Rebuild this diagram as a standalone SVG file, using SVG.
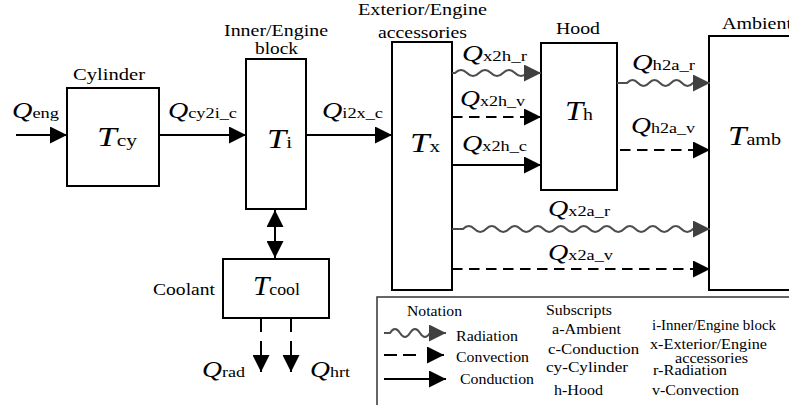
<svg xmlns="http://www.w3.org/2000/svg" width="789" height="405" viewBox="0 0 789 405">
<defs>
<style>
.box{fill:#fff;stroke:#000;stroke-width:2}
.ln{fill:none;stroke:#000;stroke-width:2}
.dash{stroke-dasharray:10.5 6.5}
.wave{fill:none;stroke:#4d4d4d;stroke-width:2}
.lbl{font-family:"Liberation Serif","Times New Roman",serif;font-size:17px;fill:#000}
.sm{font-family:"Liberation Serif","Times New Roman",serif;font-size:14px;fill:#000}
.q{font-family:"Liberation Serif","Times New Roman",serif;font-size:23px;font-style:italic;fill:#000}
.t{font-family:"Liberation Serif","Times New Roman",serif;font-size:28px;font-style:italic;fill:#000}
.s{font-style:normal;font-size:15px}
.st{font-style:normal;font-size:17px}
</style>
<marker id="ah" markerUnits="userSpaceOnUse" markerWidth="17" markerHeight="17" refX="17" refY="8.5" orient="auto"><path d="M0,0 L17,8.5 L0,17 z" fill="#000"/></marker>
<marker id="ahs" markerUnits="userSpaceOnUse" markerWidth="17" markerHeight="17" refX="17" refY="8.5" orient="auto-start-reverse"><path d="M0,0 L17,8.5 L0,17 z" fill="#000"/></marker>
<marker id="ahg" markerUnits="userSpaceOnUse" markerWidth="17" markerHeight="17" refX="17" refY="8.5" orient="auto"><path d="M0,0 L17,8.5 L0,17 z" fill="#404040"/></marker>
</defs>
<rect width="789" height="405" fill="#fff"/>

<g id="cylinder">
<rect class="box" x="67" y="88" width="92" height="98"/>
<text class="lbl" x="73" y="80" textLength="72" lengthAdjust="spacingAndGlyphs">Cylinder</text>
<text class="t" x="97" y="146" textLength="40" lengthAdjust="spacingAndGlyphs">T<tspan class="st">cy</tspan></text>
</g>

<g id="inner">
<rect class="box" x="246" y="59" width="60" height="150"/>
<text class="lbl" x="224" y="36" textLength="104" lengthAdjust="spacingAndGlyphs">Inner/Engine</text>
<text class="lbl" x="255" y="54" textLength="43" lengthAdjust="spacingAndGlyphs">block</text>
<text class="t" x="267" y="148" textLength="25" lengthAdjust="spacingAndGlyphs">T<tspan class="st">i</tspan></text>
</g>

<g id="exterior">
<rect class="box" x="392" y="42" width="60" height="248"/>
<text class="lbl" x="358" y="15" textLength="129" lengthAdjust="spacingAndGlyphs">Exterior/Engine</text>
<text class="lbl" x="378" y="38" textLength="89" lengthAdjust="spacingAndGlyphs">accessories</text>
<text class="t" x="410" y="152" textLength="30" lengthAdjust="spacingAndGlyphs">T<tspan class="st">x</tspan></text>
</g>

<g id="hood">
<rect class="box" x="541" y="43" width="76" height="147"/>
<text class="lbl" x="556" y="34" textLength="44" lengthAdjust="spacingAndGlyphs">Hood</text>
<text class="t" x="565" y="120" textLength="28" lengthAdjust="spacingAndGlyphs">T<tspan class="st">h</tspan></text>
</g>

<g id="ambient">
<rect class="box" x="709" y="36" width="100" height="254"/>
<text class="lbl" x="722" y="29" textLength="70" lengthAdjust="spacingAndGlyphs">Ambient</text>
<text class="t" x="728" y="145" textLength="53" lengthAdjust="spacingAndGlyphs">T<tspan class="st">amb</tspan></text>
</g>

<g id="coolant">
<rect class="box" x="223" y="259" width="106" height="59"/>
<text class="lbl" x="153" y="295" textLength="62" lengthAdjust="spacingAndGlyphs">Coolant</text>
<text class="t" x="253" y="295" textLength="47" lengthAdjust="spacingAndGlyphs">T<tspan class="st">cool</tspan></text>
</g>

<g id="connectors">
<path class="ln" d="M16,135 H67" marker-end="url(#ah)"/>
<path class="ln" d="M159,135 H246" marker-end="url(#ah)"/>
<path class="ln" d="M306,135 H392" marker-end="url(#ah)"/>
<path class="wave" d="M452,73 H455 q6,-6 12,0 t12,0 t12,0 t12,0 t12,0 t12,0 H541" marker-end="url(#ahg)"/>
<path class="ln dash" d="M452,117 H541" marker-end="url(#ah)"/>
<path class="ln" d="M452,165 H541" marker-end="url(#ah)"/>
<path class="wave" d="M617,83 H627 q5.5,-6 11,0 t11,0 t11,0 t11,0 t11,0 t11,0 H710" marker-end="url(#ahg)"/>
<path class="ln dash" d="M620,150 H710" marker-end="url(#ah)"/>
<path class="wave" d="M452,229 H463 q5.75,-6 11.5,0 t11.5,0 t11.5,0 t11.5,0 t11.5,0 t11.5,0 t11.5,0 t11.5,0 t11.5,0 t11.5,0 t11.5,0 t11.5,0 t11.5,0 t11.5,0 t11.5,0 t11.5,0 t11.5,0 t11.5,0 t11.5,0 t11.5,0 H710" marker-end="url(#ahg)"/>
<path class="ln dash" d="M452,269 H710" marker-end="url(#ah)"/>
<path class="ln" d="M275,210 V258" marker-start="url(#ahs)" marker-end="url(#ahs)"/>
<path class="ln" d="M261,318 V372" stroke-dasharray="14 9" marker-end="url(#ah)"/>
<path class="ln" d="M291,318 V372" stroke-dasharray="14 9" marker-end="url(#ah)"/>

<text class="q" x="12" y="118" textLength="47" lengthAdjust="spacingAndGlyphs">Q<tspan class="s">eng</tspan></text>
<text class="q" x="168" y="118" textLength="69" lengthAdjust="spacingAndGlyphs">Q<tspan class="s">cy2i_c</tspan></text>
<text class="q" x="322" y="118" textLength="61" lengthAdjust="spacingAndGlyphs">Q<tspan class="s">i2x_c</tspan></text>
<text class="q" x="462" y="61" textLength="65" lengthAdjust="spacingAndGlyphs">Q<tspan class="s">x2h_r</tspan></text>
<text class="q" x="460" y="106" textLength="65" lengthAdjust="spacingAndGlyphs">Q<tspan class="s">x2h_v</tspan></text>
<text class="q" x="462" y="151" textLength="65" lengthAdjust="spacingAndGlyphs">Q<tspan class="s">x2h_c</tspan></text>
<text class="q" x="632" y="70" textLength="63" lengthAdjust="spacingAndGlyphs">Q<tspan class="s">h2a_r</tspan></text>
<text class="q" x="631" y="133" textLength="64" lengthAdjust="spacingAndGlyphs">Q<tspan class="s">h2a_v</tspan></text>
<text class="q" x="548" y="216" textLength="62" lengthAdjust="spacingAndGlyphs">Q<tspan class="s">x2a_r</tspan></text>
<text class="q" x="548" y="260" textLength="65" lengthAdjust="spacingAndGlyphs">Q<tspan class="s">x2a_v</tspan></text>
<text class="q" x="202" y="377" textLength="43" lengthAdjust="spacingAndGlyphs">Q<tspan class="s">rad</tspan></text>
<text class="q" x="310" y="377" textLength="40" lengthAdjust="spacingAndGlyphs">Q<tspan class="s">hrt</tspan></text>
</g>

<g id="legend">
<rect x="377" y="297" width="430" height="130" fill="#fff" stroke="#333" stroke-width="1.5"/>
<text class="sm" x="407" y="316" textLength="55" lengthAdjust="spacingAndGlyphs">Notation</text>
<path class="wave" d="M384,333 H390 q5,-8 10,0 t10,0 t10,0 t10,0 H446" marker-end="url(#ahg)"/>
<path class="ln" d="M384,355 H444" stroke-dasharray="13 6 13 14 30" marker-end="url(#ah)"/>
<path class="ln" d="M384,379 H446" marker-end="url(#ah)"/>
<text class="sm" x="456" y="341" textLength="62" lengthAdjust="spacingAndGlyphs">Radiation</text>
<text class="sm" x="456" y="362" textLength="73" lengthAdjust="spacingAndGlyphs">Convection</text>
<text class="sm" x="460" y="384" textLength="74" lengthAdjust="spacingAndGlyphs">Conduction</text>
<text class="sm" x="546" y="315" textLength="66" lengthAdjust="spacingAndGlyphs">Subscripts</text>
<text class="sm" x="552" y="334" textLength="69" lengthAdjust="spacingAndGlyphs">a-Ambient</text>
<text class="sm" x="548" y="354" textLength="91" lengthAdjust="spacingAndGlyphs">c-Conduction</text>
<text class="sm" x="546" y="372" textLength="82" lengthAdjust="spacingAndGlyphs">cy-Cylinder</text>
<text class="sm" x="554" y="395" textLength="49" lengthAdjust="spacingAndGlyphs">h-Hood</text>
<text class="sm" x="652" y="330" textLength="124" lengthAdjust="spacingAndGlyphs">i-Inner/Engine block</text>
<text class="sm" x="650" y="349" textLength="117" lengthAdjust="spacingAndGlyphs">x-Exterior/Engine</text>
<text class="sm" x="675" y="363" textLength="73" lengthAdjust="spacingAndGlyphs">accessories</text>
<text class="sm" x="653" y="375" textLength="74" lengthAdjust="spacingAndGlyphs">r-Radiation</text>
<text class="sm" x="652" y="395" textLength="87" lengthAdjust="spacingAndGlyphs">v-Convection</text>
</g>
</svg>
